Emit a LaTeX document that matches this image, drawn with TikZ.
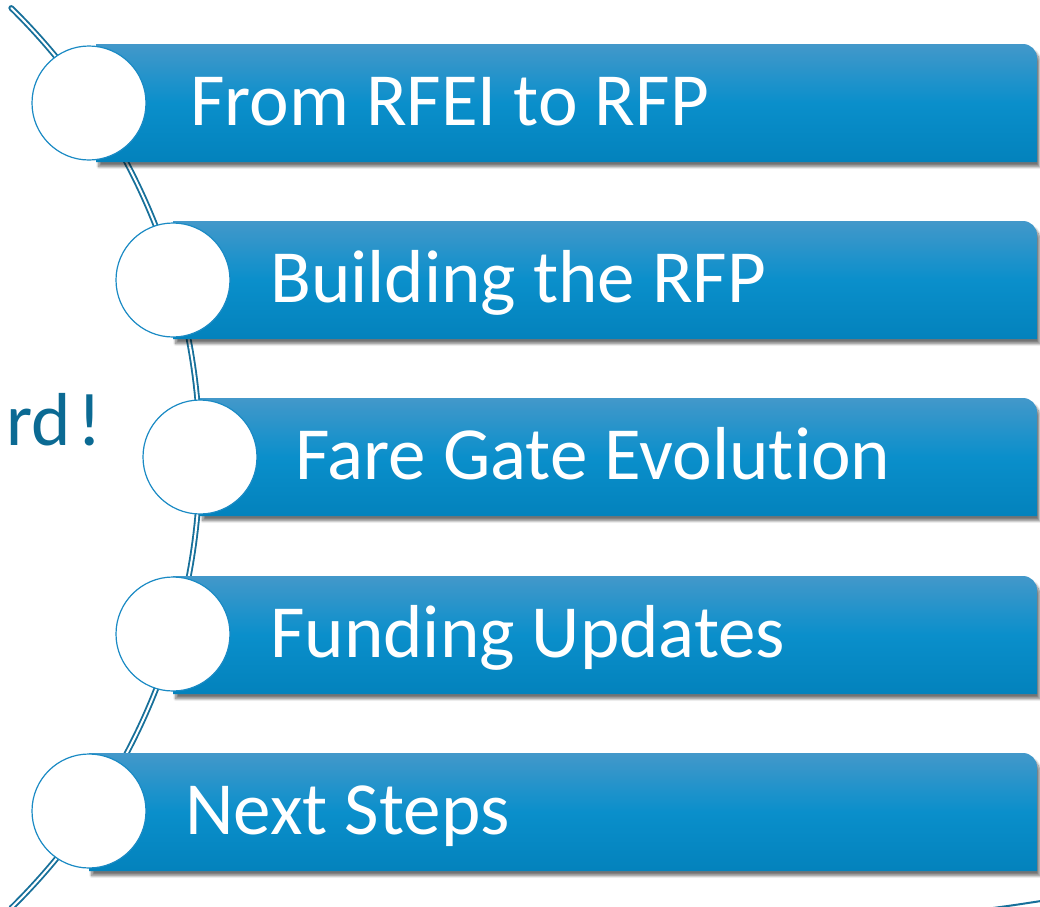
\documentclass[tikz,border=0pt]{standalone}
\usepackage{fontspec}
\setmainfont[Ligatures={NoCommon}]{Carlito}
\usetikzlibrary{shadows.blur}
\definecolor{barTop}{HTML}{4398CA}
\definecolor{barMid}{HTML}{0A8FCB}
\definecolor{barBot}{HTML}{0382BC}
\definecolor{arcTeal}{HTML}{17709A}
\definecolor{textTeal}{HTML}{0B6A93}
\definecolor{ringBlue}{HTML}{1A8AC4}
\tikzset{
	bar/.style={top color=barTop, bottom color=barBot, middle color=barMid,
		blur shadow={shadow xshift=2pt, shadow yshift=-3.5pt, shadow blur steps=10, shadow opacity=55}},
	dot/.style={circle, draw=ringBlue, line width=0.9pt, fill=white, minimum size=85.5pt, inner sep=0pt},
	itemtext/.style={anchor=base west, text=white, inner sep=0pt},
	arcline/.style={draw=arcTeal, line width=1.4pt, double=white, double distance=1.5pt}
}
% bar: left x, top y (pixels)
\newcommand\itembar[2]{\path[bar] (#1,#2) -- (1023,#2) arc[start angle=90,end angle=0,radius=10.5pt] -- (1037,#2+118) -- (#1,#2+118) -- cycle;}
\begin{document}
\begin{tikzpicture}[x=0.75pt,y=-0.75pt, font=\fontsize{56.3}{62}\selectfont, line join=round, line cap=round]
	\useasboundingbox (0,0) rectangle (1040,907);
	\def\R{473.25pt} % arc radius
	\coordinate (hub) at (-431,458);
	\draw[arcline] (hub) ++(45.5:\R) arc[start angle=45.5, end angle=-45.5, radius=\R];
	\draw[arcTeal, line width=1.5pt] (993,908) .. controls (1015,905) .. (1041,901);
	% bars
	\itembar{96}{44}
	\itembar{173}{221}
	\itembar{200}{398}
	\itembar{173}{576}
	\itembar{89}{753}
	% circles
	\node[dot] (c1) at (89,103) {};
	\node[dot] (c2) at (173,280) {};
	\node[dot] (c3) at (200,457) {};
	\node[dot] (c4) at (173,634) {};
	\node[dot] (c5) at (89,811) {};
	% texts
	\node[itemtext] (t1) at (190,125) {From RFEI to RFP};
	\node[itemtext] (t2) at (270,302) {Building the RFP};
	\node[itemtext] (t3) at (295,479) {Fare Gate Evolution};
	\node[itemtext] (t4) at (270,657) {Funding Updates};
	\node[itemtext] (t5) at (185,834) {Next Steps};
	\node[anchor=base west, inner sep=0pt, text=textTeal] (rd) at (6,445) {rd\kern5pt!};
\end{tikzpicture}
\end{document}
